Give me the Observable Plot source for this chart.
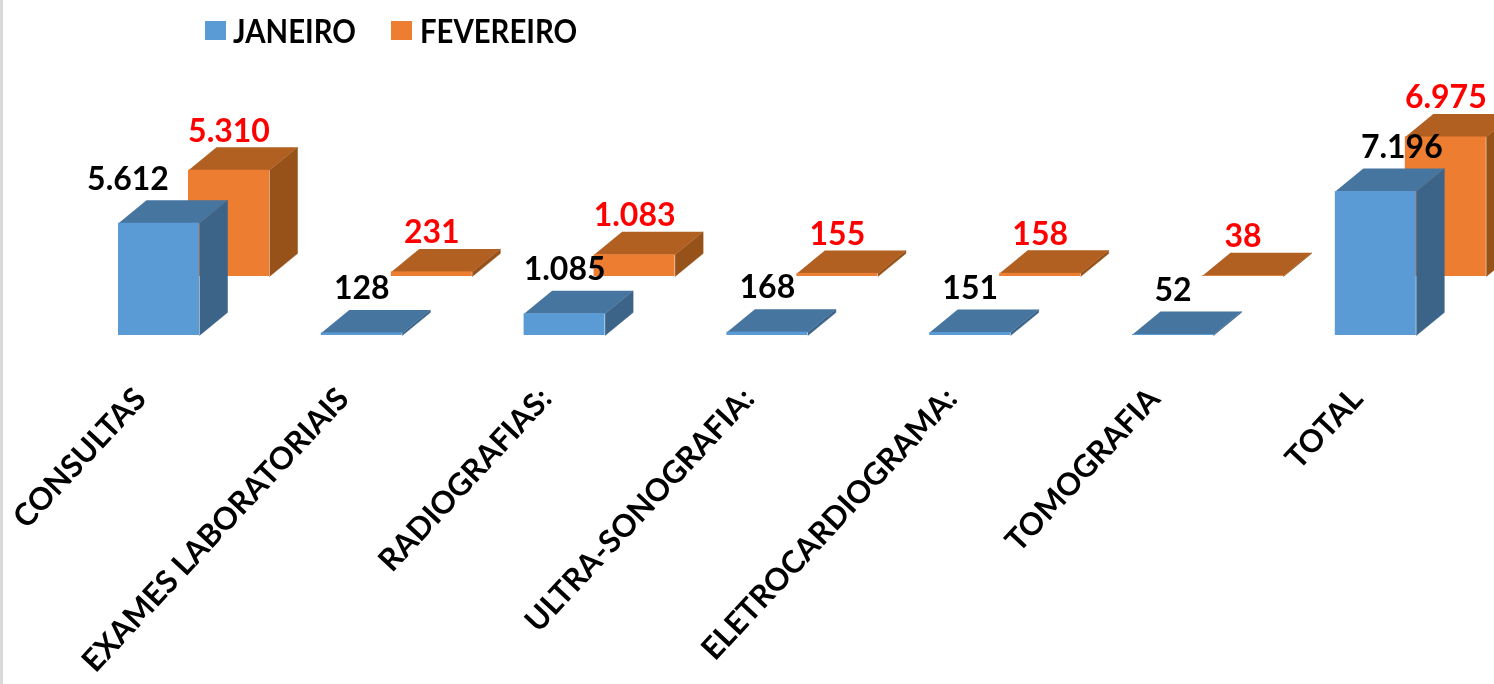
<!DOCTYPE html>
<html lang="pt">
<head>
<meta charset="utf-8">
<script src="https://cdn.jsdelivr.net/npm/d3@7"></script>
<script src="https://cdn.jsdelivr.net/npm/@observablehq/plot@0.6"></script>
<style>
  html, body { margin: 0; padding: 0; background: #fff; overflow: hidden; }
  #page { position: relative; width: 1494px; height: 684px; filter: blur(0.6px); font-family: Lato, sans-serif; }
  #strip { position: absolute; left: 0; top: 0; bottom: 0; width: 3px; background: #d9d9d9; z-index: 2; }
  #legend { height: 60px; position: relative; font-weight: 700; font-size: 29.3px; color: #000; }
  #legend span { position: absolute; top: 13px; line-height: 36px; transform: scaleY(1.12); }
  #legend i { position: absolute; top: 21px; width: 21px; height: 19px; }
  svg { display: block; }
</style>
</head>
<body>
<div id="page"><div id="strip"></div><div id="legend"></div><div id="chart"></div></div>
<script>
const categories = ["CONSULTAS", "EXAMES LABORATORIAIS", "RADIOGRAFIAS:", "ULTRA-SONOGRAFIA:", "ELETROCARDIOGRAMA:", "TOMOGRAFIA", "TOTAL"];
const janeiro = [5612, 128, 1085, 168, 151, 52, 7196];
const fevereiro = [5310, 231, 1083, 155, 158, 38, 6975];
const seriesNames = ["JANEIRO", "FEVEREIRO"];

const blue = {front: "#5b9bd5", top: "#4675a0", side: "#3c6488"};
const orange = {front: "#ed7d31", top: "#b16021", side: "#975219"};

// geometry in data units: x is category slots, y is value
const pxX = 1 / 202.8, pxY = 50;
const W = 81 * pxX, DX = 28 * pxX, DY = 23 * pxY;
const OX = 70 * pxX, OY = 59 * pxY;
const MID = 40.5 * pxX;
const fmt = d3.formatLocale({decimal: ",", thousands: ".", grouping: [3], currency: ["", ""]}).format(",d");

const faces = (values, xo, yo, key) => ({
  rects: values.map((v, i) => ({x1: i + xo, x2: i + xo + W, y1: yo, y2: yo + v})),
  top: values.flatMap((v, i) => [[0, 0], [W, 0], [W + DX, DY], [DX, DY]].map(([dx, dy]) => ({id: key + i, x: i + xo + dx, y: yo + v + dy}))),
  side: values.flatMap((v, i) => [[W, yo], [W + DX, yo + DY], [W + DX, yo + v + DY], [W, yo + v]].map(([dx, y]) => ({id: key + i, x: i + xo + dx, y})))
});
const draw = (f, c) => [
  Plot.line(f.side, {x: "x", y: "y", z: "id", fill: c.side, stroke: c.side, strokeWidth: 0.5}),
  Plot.line(f.top, {x: "x", y: "y", z: "id", fill: c.top, stroke: "none"}),
  Plot.rect(f.rects, {x1: "x1", x2: "x2", y1: "y1", y2: "y2", fill: c.front})
];

const janShift = [-31, 0, 0, 0, 0, 0, 26];
const janLabels = janeiro.map((v, i) => ({x: i + MID + janShift[i] * pxX, y: v + 44 * pxY, t: fmt(v)}));
const fevLabels = fevereiro.map((v, i) => ({x: i + OX + MID, y: OY + v + 39 * pxY, t: fmt(v)}));
const catLabels = categories.map((c, i) => ({x: i + 22 * pxX, y: -58 * pxY, t: c}));

const plot = Plot.plot({
  width: 1494, height: 624,
  marginTop: 0, marginRight: 0, marginBottom: 0, marginLeft: 0,
  x: {domain: [-118 * pxX, (1494 - 118) * pxX], range: [0, 1494], axis: null},
  y: {domain: [-349 * pxY, 275 * pxY], range: [624, 0], axis: null},
  style: {fontFamily: "Lato, sans-serif", background: "transparent"},
  marks: [
    ...draw(faces(fevereiro, OX, OY, "f"), orange),
    ...draw(faces(janeiro, 0, 0, "j"), blue),
    Plot.text(janLabels, {x: "x", y: "y", text: "t", fill: "#000", fontSize: 32, fontWeight: 700}),
    Plot.text(fevLabels, {x: "x", y: "y", text: "t", fill: "#ff0000", fontSize: 32, fontWeight: 700}),
    Plot.text(catLabels, {x: "x", y: "y", text: "t", fill: "#000", fontSize: 31, fontWeight: 700, rotate: -47, textAnchor: "end"})
  ]
});
document.getElementById("chart").append(plot);

const legend = document.getElementById("legend");
[[205, 233, blue.front], [391, 420, orange.front]].forEach(([sx, tx, col], i) => {
  const sw = document.createElement("i");
  sw.style.left = sx + "px"; sw.style.background = col;
  const tt = document.createElement("span");
  tt.style.left = tx + "px"; tt.textContent = seriesNames[i];
  legend.append(sw, tt);
});
</script>
</body>
</html>
